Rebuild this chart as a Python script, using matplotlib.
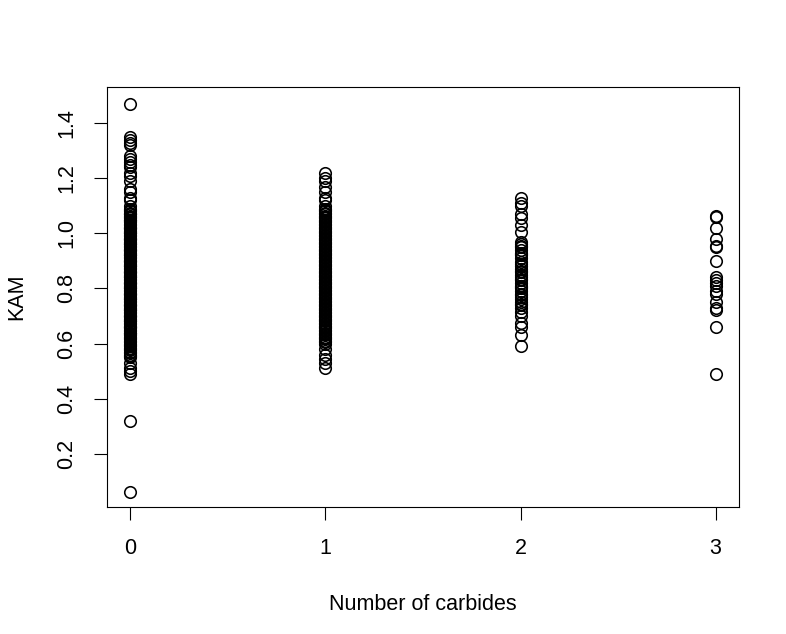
import matplotlib
matplotlib.use("Agg")
import matplotlib.pyplot as plt

plt.rcParams["font.family"] = ["Liberation Sans", "DejaVu Sans"]

# KAM values per number of carbides
kam_0 = [1.47, 1.35, 1.34, 1.33, 1.32, 1.28, 1.27, 1.26, 1.25, 1.24, 1.22,
         1.21, 1.19, 1.16, 1.15, 1.13, 1.12, 1.10, 1.09, 1.085, 1.08, 1.075,
         1.07, 1.07, 1.065, 1.06, 1.055, 1.05, 1.05, 1.045, 1.04, 1.035,
         1.03, 1.025, 1.02, 1.02, 1.015, 1.01, 1.005, 1.00, 1.00, 0.995,
         0.99, 0.985, 0.98, 0.98, 0.975, 0.97, 0.965, 0.96, 0.96, 0.955,
         0.95, 0.945, 0.94, 0.94, 0.935, 0.93, 0.925, 0.92, 0.92, 0.915,
         0.91, 0.905, 0.90, 0.90, 0.895, 0.89, 0.885, 0.88, 0.88, 0.875,
         0.87, 0.865, 0.86, 0.86, 0.855, 0.85, 0.845, 0.84, 0.84, 0.835,
         0.83, 0.825, 0.82, 0.82, 0.815, 0.81, 0.805, 0.80, 0.80, 0.795,
         0.79, 0.785, 0.78, 0.78, 0.775, 0.77, 0.765, 0.76, 0.76, 0.755,
         0.75, 0.745, 0.74, 0.74, 0.735, 0.73, 0.725, 0.72, 0.72, 0.715,
         0.71, 0.705, 0.70, 0.70, 0.695, 0.69, 0.685, 0.68, 0.68, 0.675,
         0.67, 0.665, 0.66, 0.66, 0.655, 0.65, 0.645, 0.64, 0.64, 0.635,
         0.63, 0.625, 0.62, 0.615, 0.61, 0.605, 0.60, 0.595, 0.59, 0.585,
         0.58, 0.575, 0.57, 0.565, 0.56, 0.555, 0.55, 0.53, 0.51, 0.50,
         0.49, 0.32, 0.06]

kam_1 = [1.22, 1.20, 1.19, 1.17, 1.15, 1.13, 1.12, 1.10, 1.09, 1.085, 1.08,
         1.075, 1.07, 1.065, 1.06, 1.055, 1.05, 1.045, 1.04, 1.035, 1.03,
         1.025, 1.02, 1.015, 1.01, 1.005, 1.00, 0.995, 0.99, 0.985, 0.98,
         0.975, 0.97, 0.965, 0.96, 0.955, 0.95, 0.945, 0.94, 0.935, 0.93,
         0.925, 0.92, 0.915, 0.91, 0.905, 0.90, 0.895, 0.89, 0.885, 0.88,
         0.875, 0.87, 0.865, 0.86, 0.855, 0.85, 0.845, 0.84, 0.835, 0.83,
         0.825, 0.82, 0.815, 0.81, 0.805, 0.80, 0.795, 0.79, 0.785, 0.78,
         0.775, 0.77, 0.765, 0.76, 0.755, 0.75, 0.745, 0.74, 0.735, 0.73,
         0.725, 0.72, 0.715, 0.71, 0.705, 0.70, 0.695, 0.69, 0.685, 0.68,
         0.675, 0.67, 0.665, 0.66, 0.655, 0.65, 0.645, 0.64, 0.635, 0.63,
         0.625, 0.62, 0.615, 0.61, 0.605, 0.60, 0.58, 0.56, 0.545, 0.53,
         0.51]

kam_2 = [1.13, 1.11, 1.10, 1.07, 1.055, 1.03, 1.005, 0.97, 0.96, 0.955,
         0.95, 0.94, 0.93, 0.925, 0.92, 0.91, 0.895, 0.89, 0.88, 0.87,
         0.865, 0.86, 0.85, 0.84, 0.835, 0.83, 0.82, 0.81, 0.805, 0.80,
         0.79, 0.78, 0.775, 0.77, 0.76, 0.75, 0.745, 0.74, 0.73, 0.715,
         0.70, 0.675, 0.66, 0.63, 0.59]

kam_3 = [1.065, 1.06, 1.02, 0.98, 0.955, 0.95, 0.90, 0.84, 0.83, 0.82,
         0.81, 0.79, 0.78, 0.75, 0.73, 0.72, 0.66, 0.49]

carbides = [0, 1, 2, 3]
groups = [kam_0, kam_1, kam_2, kam_3]

fig = plt.figure(figsize=(7.86, 6.34), dpi=100)
ax = fig.add_axes([0.1361, 0.2003, 0.8041, 0.6625])

for n, vals in zip(carbides, groups):
    ax.plot([n] * len(vals), vals, linestyle="none", marker="o",
            markersize=8.3, markerfacecolor="none", markeredgecolor="black",
            markeredgewidth=1.15)

ax.set_xlim(-0.12, 3.12)
ax.set_ylim(0.006, 1.532)
ax.set_xticks(carbides)
ax.set_yticks([0.2, 0.4, 0.6, 0.8, 1.0, 1.2, 1.4])
ax.set_yticklabels(["0.2", "0.4", "0.6", "0.8", "1.0", "1.2", "1.4"])

ax.tick_params(axis="both", length=9.5, width=0.8, labelsize=15.5,
               colors="black")
ax.tick_params(axis="x", pad=13)
ax.tick_params(axis="y", pad=12)
for lbl in ax.get_yticklabels():
    lbl.set_rotation(90)
    lbl.set_va("center")

for sp in ax.spines.values():
    sp.set_linewidth(0.8)

ax.set_xlabel("Number of carbides", fontsize=15.5, labelpad=25)
ax.set_ylabel("KAM", fontsize=15.5, labelpad=21)

fig.savefig("out.png", dpi=100)
